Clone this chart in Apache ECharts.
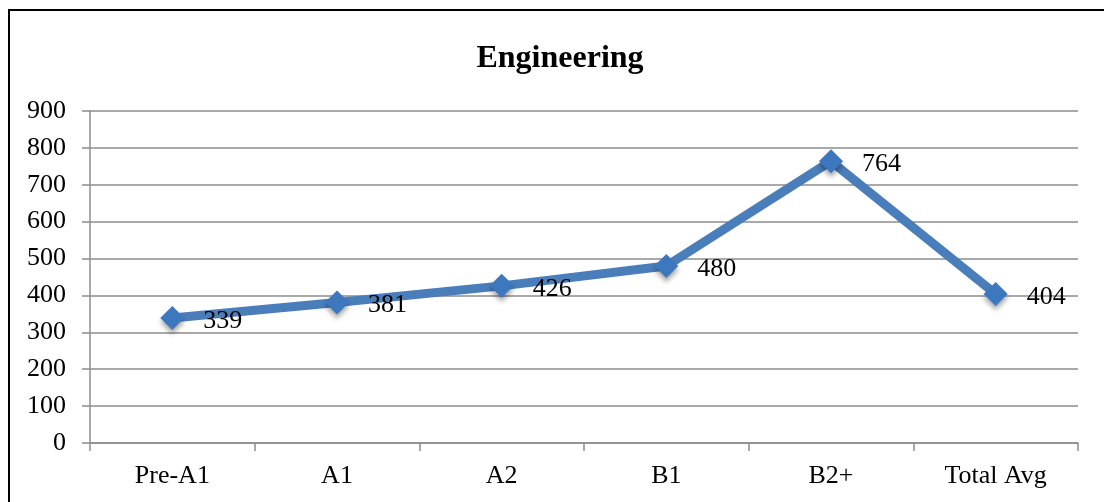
<!DOCTYPE html>
<html>
<head>
<meta charset="utf-8">
<script src="https://cdn.jsdelivr.net/npm/echarts@6/dist/echarts.min.js"></script>
<style>
  html, body { margin: 0; padding: 0; background: #fff; }
  #chart { width: 1104px; height: 502px; }
</style>
</head>
<body>
<div id="chart"></div>
<script>
// Average scores by proficiency level
const categories = ['Pre-A1', 'A1', 'A2', 'B1', 'B2+', 'Total Avg'];
const scores = [339, 381, 426, 480, 764, 404];
const yTicks = [0, 100, 200, 300, 400, 500, 600, 700, 800, 900];

const serif = '"Liberation Serif", "Times New Roman", serif';
const gridGray = '#8c8c8c';

const chart = echarts.init(document.getElementById('chart'));
chart.setOption({
  animation: false,
  backgroundColor: '#fff',
  graphic: [
    {
      type: 'rect',
      shape: { x: 9, y: 10, width: 1120, height: 520 },
      style: { fill: 'none', stroke: '#000', lineWidth: 2 },
      silent: true
    },
    {
      type: 'text',
      x: 560,
      y: 59,
      style: {
        text: 'Engineering',
        font: 'bold 32px ' + serif,
        fill: '#000',
        align: 'center',
        verticalAlign: 'middle'
      }
    }
  ],
  grid: { left: 90, right: 26, top: 111, bottom: 59, containLabel: false },
  xAxis: {
    type: 'category',
    data: categories,
    boundaryGap: true,
    axisLine: { lineStyle: { color: gridGray, width: 1.5 } },
    axisTick: { show: true, length: 8, alignWithLabel: false, lineStyle: { color: gridGray, width: 1.5 } },
    axisLabel: { color: '#000', fontFamily: serif, fontSize: 26, margin: 20 },
    splitLine: { show: false }
  },
  yAxis: {
    type: 'value',
    min: yTicks[0],
    max: yTicks[yTicks.length - 1],
    interval: yTicks[1] - yTicks[0],
    axisLine: { show: true, lineStyle: { color: gridGray, width: 1.5 } },
    axisTick: { show: true, length: 8, lineStyle: { color: gridGray, width: 1.5 } },
    axisLabel: { color: '#000', fontFamily: serif, fontSize: 26, margin: 24 },
    splitLine: { show: true, lineStyle: { color: gridGray, width: 1.5 } }
  },
  series: [{
    type: 'line',
    data: scores,
    symbol: 'diamond',
    symbolSize: 24,
    lineStyle: { color: '#4a7ebb', width: 9 },
    itemStyle: {
      color: '#3d77bd',
      shadowColor: 'rgba(0,0,0,0.35)',
      shadowBlur: 5,
      shadowOffsetY: 4
    },
    label: {
      show: true,
      position: 'right',
      distance: 19,
      offset: [0, 3],
      color: '#000',
      fontFamily: serif,
      fontSize: 26
    }
  }]
});
</script>
</body>
</html>
